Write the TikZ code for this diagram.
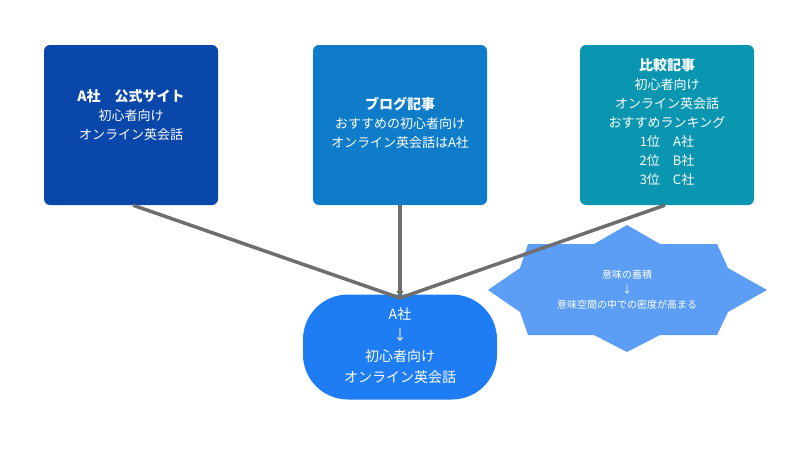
\documentclass[tikz,border=0pt]{standalone}
\usepackage{fontspec}
\setmainfont{Noto Sans CJK JP}
\usetikzlibrary{arrows.meta,positioning}
\definecolor{boxA}{HTML}{0A47AA}
\definecolor{boxB}{HTML}{0E7CC8}
\definecolor{boxC}{HTML}{0A96B0}
\definecolor{goal}{HTML}{1E7DF2}
\definecolor{star}{HTML}{5C9EF6}
\definecolor{link}{HTML}{6E6E6E}
\begin{document}
\begin{tikzpicture}[x=1pt,y=-1pt,>=Latex]

	% ------------------------------------------------------------
	% Styles
	% ------------------------------------------------------------
	\tikzset{
		src/.style={draw=none,rounded corners=6pt,minimum width=174pt,
			minimum height=160pt,inner sep=0pt},
		txt/.style={text=white,align=center,font=\fontsize{13}{19}\selectfont},
		link/.style={draw=link,line width=3.5pt},
		tip/.style={link,-{Latex[length=7pt,width=8pt]}}
	}
	\useasboundingbox (0,0) rectangle (800,450);

	% ============================================================
	% Top row: three sources
	% ============================================================
	\node[src,fill=boxA] (siteA) at (131,125) {};
	\node[src,fill=boxB] (blog)  at (400,125) {};
	\node[src,fill=boxC] (comp)  at (667,125) {};

	\node[txt] at (131,115) {{\bfseries\fontsize{14}{19}\selectfont A社\quad 公式サイト}\\初心者向け\\オンライン英会話};
	\node[txt] at (400,123) {{\bfseries\fontsize{14}{19}\selectfont ブログ記事}\\おすすめの初心者向け\\オンライン英会話はA社};
	\node[txt] at (667,122) {{\bfseries\fontsize{14}{19}\selectfont 比較記事}\\初心者向け\\オンライン英会話\\おすすめランキング\\1位\quad A社\\2位\quad B社\\3位\quad C社};

	% ============================================================
	% Star: accumulation of meaning
	% ============================================================
	\fill[star] (627,225) -- (660,244) -- (717,244) -- (728,268) -- (767,290)
		-- (728,312) -- (717,335) -- (660,335) -- (627,352) -- (594,335)
		-- (528,335) -- (520,312) -- (488,290) -- (520,268) -- (528,244)
		-- (594,244) -- cycle;
	\node[txt,font=\fontsize{10}{15}\selectfont] (accum) at (627,290)
		{意味の蓄積\\↓\\意味空間の中での密度が高まる};

	% ============================================================
	% Bottom: result
	% ============================================================
	\node[fill=goal,rounded corners=45pt,minimum width=194pt,minimum height=105pt]
		(result) at (400,347) {};
	\node[txt,font=\fontsize{14}{21}\selectfont] at (400,346)
		{A社\\↓\\初心者向け\\オンライン英会話};

	% ============================================================
	% Connectors
	% ============================================================
	\coordinate (hit) at (400,298);
	\draw[link] ([xshift=2pt]siteA.south) -- (hit);
	\draw[link] ([xshift=-2pt]comp.south) -- (hit);
	\draw[tip] (blog.south) -- (hit);

\end{tikzpicture}
\end{document}
